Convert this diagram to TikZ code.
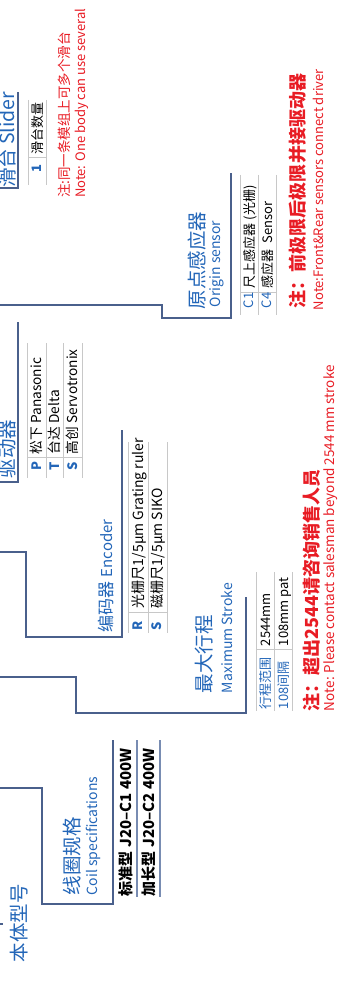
\documentclass[tikz,border=0pt]{standalone}
\usepackage{fontspec}
\setmainfont{Noto Sans CJK SC}
\definecolor{hdr}{RGB}{35,102,184}
\definecolor{linec}{RGB}{74,96,140}
\definecolor{tgray}{RGB}{200,200,200}
\definecolor{tblue}{RGB}{120,140,178}
\definecolor{nred}{RGB}{232,28,36}
\newcommand\fsz[1]{\fontsize{#1}{#1}\selectfont}
\begin{document}
\begin{tikzpicture}[x=1pt,y=-1pt,
  txt/.style={rotate=90,anchor=base west,inner sep=0pt,outer sep=0pt},
  conn/.style={draw=linec,line width=1.4pt,line join=miter},
  tline/.style={draw=tgray,line width=1pt},
  bline/.style={draw=tblue,line width=1.2pt}]
\useasboundingbox (0,0) rectangle (339,984);
\clip (0,0) rectangle (339,984);

% ---------- connectors ----------
\coordinate (slA) at (0,188);   \coordinate (slB) at (18,92);
\draw[conn] (slA) -- (18,188) -- (slB);
\coordinate (orA) at (0,305);   \coordinate (orB) at (231,173);
\draw[conn] (orA) -- (162,305) -- (162,318) -- (231,318) -- (orB);
\coordinate (drA) at (0,482);   \coordinate (drB) at (18,322);
\draw[conn] (drA) -- (18,482) -- (drB);
\coordinate (enA) at (0,552);   \coordinate (enB) at (122,430);
\draw[conn] (enA) -- (26,552) -- (26,637) -- (122,637) -- (enB);
\coordinate (stA) at (0,677);   \coordinate (stB) at (246,597);
\draw[conn] (stA) -- (76,677) -- (76,713) -- (246,713) -- (stB);
\coordinate (coA) at (0,788);   \coordinate (coB) at (113,740);
\draw[conn] (coA) -- (42,788) -- (42,904) -- (113,904) -- (coB);
\coordinate (mnA) at (0,924);   \coordinate (mnB) at (3,924);
\draw[conn] (mnA) -- (mnB);

% ---------- table lines ----------
% slider
\draw[tline] (28,100) -- (28,185) (46,100) -- (46,185) (28,158) -- (46,158);
% origin
\draw[tline] (240,175) -- (240,315) (258,175) -- (258,315) (276,175) -- (276,315) (240,292) -- (276,292);
% driver
\draw[tline] (27,343) -- (27,478) (46,343) -- (46,478) (63,343) -- (63,478) (82,343) -- (82,478) (27,457) -- (82,457);
% encoder
\draw[tline] (128,442) -- (128,633) (148,442) -- (148,633) (167,442) -- (167,633) (128,612) -- (167,612);
% stroke
\draw[tline] (256,572) -- (256,711) (274,572) -- (274,711) (292,572) -- (292,711) (256,649) -- (292,649);
% coil
\draw[bline] (137,740) -- (137,897) (160,740) -- (160,897);

% ---------- slider ----------
\node[txt,hdr,font=\fsz{19.5}] (sld) at (14,188) {滑台 Slider};
\node[txt,hdr,font=\bfseries\fsz{13}] (sl1) at (41.5,173) {1};
\node[txt,font=\fsz{13}] (sl1d) at (42,155) {滑台数量};
\node[txt,nred,font=\fsz{13.5}] (sln1) at (69.5,198) {注:同一条模组上可多个滑台};
\node[txt,nred,font=\fsz{13}] (sln2) at (85,198) {Note: One body can use several};

% ---------- origin sensor ----------
\node[txt,hdr,font=\fsz{19.5}] (org) at (204,309) {原点感应器};
\node[txt,hdr,font=\fsz{14}] (orgen) at (220,307) {Origin sensor};
\node[txt,hdr,font=\fsz{13}] (oc1) at (253.5,308) {C1};
\node[txt,font=\fsz{13}] (oc1d) at (254,288) {尺上感应器 (光栅)};
\node[txt,hdr,font=\fsz{13}] (oc4) at (271.5,308) {C4};
\node[txt,font=\fsz{13}] (oc4d) at (272,288) {感应器\ \ Sensor};
\node[txt,nred,font=\bfseries\fsz{18}] (orn1) at (304.5,308) {注：前极限后极限并接驱动器};
\node[txt,nred,font=\fsz{13}] (orn2) at (323,310) {Note:Front\&Rear sensors connect driver};

% ---------- driver ----------
\node[txt,hdr,font=\fsz{19.5}] (drv) at (14,478) {驱动器};
\node[txt,hdr,font=\bfseries\fsz{13}] (dp) at (41.5,470) {P};
\node[txt,font=\fsz{13.7}] (dpd) at (41.5,454) {松下 Panasonic};
\node[txt,hdr,font=\bfseries\fsz{13}] (dt) at (59.5,470) {T};
\node[txt,font=\fsz{13.7}] (dtd) at (59.5,454) {台达 Delta};
\node[txt,hdr,font=\bfseries\fsz{13}] (ds) at (77.5,470) {S};
\node[txt,font=\fsz{13.7}] (dsd) at (77.5,454) {高创 Servotronix};

% ---------- encoder ----------
\node[txt,hdr,font=\fsz{17}] (enc) at (112.5,632) {编码器 {\fsz{15}Encoder}};
\node[txt,hdr,font=\bfseries\fsz{13}] (er) at (142.5,630) {R};
\node[txt,font=\fsz{14}] (erd) at (143,608) {光栅尺1/5μm Grating ruler};
\node[txt,hdr,font=\bfseries\fsz{13}] (es) at (161.5,630) {S};
\node[txt,font=\fsz{14}] (esd) at (162,608) {磁栅尺1/5μm SIKO};

% ---------- stroke ----------
\node[txt,hdr,font=\fsz{19.5}] (stk) at (211.5,693) {最大行程};
\node[txt,hdr,font=\fsz{14}] (stken) at (232,693) {Maximum Stroke};
\node[txt,hdr,font=\fsz{13}] (s1a) at (270,709) {行程范围};
\node[txt,font=\fsz{13}] (s1b) at (270,646) {2544mm};
\node[txt,hdr,font=\fsz{13}] (s2a) at (288,709) {108间隔};
\node[txt,font=\fsz{13}] (s2b) at (288,646) {108mm pat};
\node[txt,nred,font=\bfseries\fsz{18}] (stn1) at (318.5,711) {注：超出2544请咨询销售人员};
\node[txt,nred,font=\fsz{13.5}] (stn2) at (334,711) {Note: Please contact salesman beyond 2544 mm stroke};

% ---------- coil ----------
\node[txt,hdr,font=\fsz{19.5}] (coil) at (79.5,895) {线圈规格};
\node[txt,hdr,font=\fsz{14}] (coilen) at (97.5,895) {Coil specifications};
\node[txt,font=\bfseries\fsz{15}] (cs1) at (131.5,896) {标准型 J20–C1 400W};
\node[txt,font=\bfseries\fsz{15}] (cs2) at (154.5,896) {加长型 J20–C2 400W};

% ---------- main ----------
\node[txt,hdr,font=\fsz{19.5}] (mainm) at (26,962) {本体型号};
\end{tikzpicture}
\end{document}
